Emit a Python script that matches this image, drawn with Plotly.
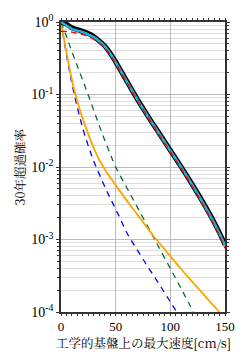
import plotly.graph_objects as go

# x values (PGV cm/s) and log10 of 30-year exceedance probability
x_total = [0, 5, 10, 15, 20, 25, 30, 35, 40, 45, 50, 55, 60, 65, 70, 80, 90, 100, 110, 120, 130, 140, 145, 150]
log_black = [0, -0.03, -0.08, -0.105, -0.13, -0.16, -0.2, -0.26, -0.33, -0.43, -0.55, -0.68, -0.81, -0.94, -1.07, -1.31, -1.54, -1.77, -2.0, -2.24, -2.49, -2.76, -2.91, -3.07]
log_cyan = [0, -0.05, -0.095, -0.12, -0.14, -0.17, -0.21, -0.265, -0.335, -0.435, -0.555, -0.685, -0.815, -0.945, -1.075, -1.315, -1.545, -1.775, -2.005, -2.245, -2.5, -2.77, -2.92, -3.08]
log_red = [-0.13, -0.13, -0.14, -0.155, -0.175, -0.2, -0.24, -0.29, -0.355, -0.45, -0.565, -0.695, -0.825, -0.955, -1.085, -1.325, -1.56, -1.79, -2.02, -2.265, -2.52, -2.8, -2.95, -3.12]

x_orange = [0, 5, 10, 15, 20, 25, 30, 35, 40, 50, 60, 70, 80, 86, 90, 100, 110, 120, 130, 140, 145]
log_orange = [0, -0.42, -0.8, -1.1, -1.34, -1.55, -1.74, -1.9, -2.03, -2.25, -2.46, -2.66, -2.86, -2.98, -3.05, -3.23, -3.41, -3.58, -3.75, -3.92, -4.0]

x_blue = [0, 5, 10, 15, 20, 25, 30, 35, 40, 45, 50, 55, 60, 65, 70, 80, 90, 100, 106]
log_blue = [0, -0.45, -0.85, -1.18, -1.47, -1.71, -1.92, -2.1, -2.27, -2.43, -2.58, -2.74, -2.9, -3.03, -3.15, -3.39, -3.62, -3.86, -4.0]

x_green = [0, 5, 10, 15, 20, 25, 30, 35, 40, 45, 50, 60, 70, 80, 85, 90, 100, 110, 118, 121]
log_green = [0, -0.2, -0.41, -0.61, -0.81, -1.01, -1.22, -1.43, -1.63, -1.82, -2.0, -2.28, -2.56, -2.84, -2.98, -3.12, -3.4, -3.68, -3.91, -4.0]

ytick_vals = [1, 0.1, 0.01, 0.001, 0.0001]
ytick_text = ["10<sup>0</sup>", "10<sup>-1</sup>", "10<sup>-2</sup>", "10<sup>-3</sup>", "10<sup>-4</sup>"]
xtick_vals = [0, 50, 100, 150]
x_title = "工学的基盤上の最大速度[cm/s]"
y_title = "30年超過確率"


def p(vals):
    return [10 ** v for v in vals]


fig = go.Figure()
fig.add_trace(go.Scatter(x=x_blue, y=p(log_blue), mode="lines",
                         line=dict(color="#0000ff", width=1.3, dash="6px,5px", shape="spline")))
fig.add_trace(go.Scatter(x=x_green, y=p(log_green), mode="lines",
                         line=dict(color="#0b6b3a", width=1.3, dash="6px,5px", shape="spline")))
fig.add_trace(go.Scatter(x=x_orange, y=p(log_orange), mode="lines",
                         line=dict(color="#ffa500", width=1.8, shape="spline")))
fig.add_trace(go.Scatter(x=x_total, y=p(log_black), mode="lines",
                         line=dict(color="#000000", width=5, shape="spline")))
fig.add_trace(go.Scatter(x=x_total, y=p(log_cyan), mode="lines",
                         line=dict(color="#19b4e0", width=2.6, shape="spline")))
fig.add_trace(go.Scatter(x=x_total, y=p(log_red), mode="lines",
                         line=dict(color="#ff0000", width=1.3, dash="6px,4px", shape="spline")))

font_serif = "Liberation Serif, Times New Roman, serif"
font_cjk = "Noto Serif CJK JP, Noto Sans CJK JP"
fig.update_layout(
    width=247, height=357,
    margin=dict(l=61, r=20, t=16, b=45),
    paper_bgcolor="white", plot_bgcolor="white",
    showlegend=False,
    font=dict(family=font_serif, color="black", size=14),
    annotations=[
        dict(text=x_title, xref="paper", yref="paper", x=0.5, y=-0.108,
             xanchor="center", yanchor="middle", showarrow=False,
             font=dict(family=font_cjk, size=12.5, color="black")),
        dict(text=y_title, xref="paper", yref="paper", x=-0.247, y=0.5, textangle=-90,
             xanchor="center", yanchor="middle", showarrow=False,
             font=dict(family=font_cjk, size=12.5, color="black")),
    ],
)
fig.update_xaxes(
    range=[0, 150], tickvals=xtick_vals, ticks="outside", ticklen=2, tickcolor="#333",
    showline=True, linecolor="#333", linewidth=1.5, mirror="allticks",
    showgrid=True, gridcolor="#bbbbbb", gridwidth=1, zeroline=False,
    minor=dict(dtick=5, ticks="outside", ticklen=2, tickcolor="#333", showgrid=False),
    tickfont=dict(family=font_serif, size=13, color="black"),
)
fig.update_yaxes(
    type="log", range=[-4, 0], tickvals=ytick_vals, ticktext=ytick_text,
    ticks="outside", ticklen=3, tickcolor="#333",
    showline=True, linecolor="#333", linewidth=1.5, mirror="allticks",
    showgrid=True, gridcolor="#bbbbbb", gridwidth=1,
    minor=dict(dtick="D1", ticks="outside", ticklen=2, tickcolor="#333", showgrid=True, gridcolor="#dddddd", gridwidth=1),
    tickfont=dict(family=font_serif, size=14, color="black"),
)
fig.write_html("out.html")
